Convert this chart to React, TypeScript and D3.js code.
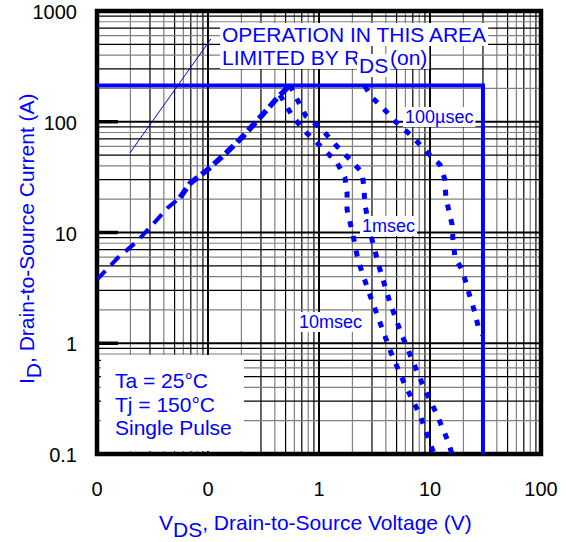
import React, { useEffect, useRef } from 'react';
import * as d3 from 'd3';

// rising part, limited by RDS(on)
const riseV = [0.01, 0.0155, 0.0229, 0.03, 0.0437, 0.056, 0.0689, 0.1, 0.148, 0.207, 0.313, 0.427, 0.548];
const riseI = [3.76, 5.94, 8.29, 11.1, 16.8, 20.7, 27.8, 37.2, 53, 74, 117, 167, 214];

const ms1V = [0.548, 0.634, 0.764, 1.06, 1.45, 1.82, 2.44, 2.54, 2.59, 3.0, 3.54, 4.36, 5.48, 7.03, 9.0, 11.6, 14.5, 15.8];
const ms1I = [214, 160, 112, 85.5, 60, 47.7, 34.9, 25.5, 17.9, 8.65, 4.63, 2.33, 1.24, 0.68, 0.38, 0.225, 0.131, 0.1];

const ms10V = [0.446, 0.583, 0.796, 1.06, 1.45, 1.71, 1.79, 1.79, 2.02, 2.24, 2.76, 3.55, 4.46, 5.96, 8.13, 10, 10.9];
const ms10I = [174, 110, 77, 58.8, 43, 31.5, 23, 16.1, 9.6, 5.7, 3.05, 1.53, 0.82, 0.42, 0.225, 0.126, 0.1];

const us100V = [2.59, 2.94, 3.94, 4.84, 6.89, 9.6, 12.3, 13.6, 13.9, 15.8, 16.1, 16.8, 19.4, 21.1, 22.9, 25.4, 27.6, 30];
const us100I = [210, 170, 127, 101, 74, 52, 41, 30.2, 20.7, 11.8, 8.65, 5.94, 4.63, 3.53, 2.64, 1.89, 1.32, 1.19];

const dcV = [0.01, 30, 30];
const dcI = [212, 212, 0.1];

// pointer line of the RDS(on) note
const noteV = [0.0198, 0.106];
const noteI = [52.3, 559];

const xTicks = [0.01, 0.1, 1, 10, 100];
const xTickLabels = ['0', '0', '1', '10', '100'];
const yTicks = [0.1, 1, 10, 100, 1000];
const yTickLabels = ['0.1', '1', '10', '100', '1000'];

const BLUE = '#0000ff';
const FONT = '"Liberation Sans", Arial, Helvetica, sans-serif';

const zip = (v: number[], i: number[]) => v.map((d, k) => [d, i[k]] as [number, number]);

function App() {
  const svgRef = useRef<SVGSVGElement>(null);

  useEffect(() => {
    const svg = d3.select(svgRef.current);
    svg.selectAll('*').remove();

    const dims = { left: 97, right: 541, top: 11, bottom: 454 };

    const x = d3.scaleLog().domain([0.01, 100]).range([dims.left, dims.right]);
    const y = d3.scaleLog().domain([0.1, 1000]).range([dims.bottom, dims.top]);

    svg.append('rect').attr('width', 566).attr('height', 542).attr('fill', 'white');

    svg.append('defs').append('clipPath').attr('id', 'plot-clip')
      .append('rect')
      .attr('x', dims.left).attr('y', dims.top - 3)
      .attr('width', dims.right - dims.left).attr('height', dims.bottom - dims.top + 6);

    // grid
    const grid = svg.append('g');
    const minors: { v: number; m: number }[] = [];
    [0.01, 0.1, 1, 10].forEach((d) => {
      for (let m = 2; m <= 9; m++) minors.push({ v: d * m, m });
    });
    const yMinors: { v: number; m: number }[] = [];
    [0.1, 1, 10, 100].forEach((d) => {
      for (let m = 2; m <= 9; m++) yMinors.push({ v: d * m, m });
    });
    const minorColor = (m: number) => (m % 2 === 0 ? '#808080' : '#000');

    grid.selectAll('.vx').data(minors).enter().append('line')
      .attr('x1', (d) => x(d.v)).attr('x2', (d) => x(d.v))
      .attr('y1', dims.top).attr('y2', dims.bottom)
      .attr('stroke', (d) => minorColor(d.m)).attr('stroke-width', 1.2);
    grid.selectAll('.hy').data(yMinors).enter().append('line')
      .attr('y1', (d) => y(d.v)).attr('y2', (d) => y(d.v))
      .attr('x1', dims.left).attr('x2', dims.right)
      .attr('stroke', (d) => minorColor(d.m)).attr('stroke-width', 1.2);
    grid.selectAll('.vmaj').data(xTicks).enter().append('line')
      .attr('x1', (d) => x(d)).attr('x2', (d) => x(d))
      .attr('y1', dims.top).attr('y2', dims.bottom)
      .attr('stroke', '#000').attr('stroke-width', 2);
    grid.selectAll('.hmaj').data(yTicks).enter().append('line')
      .attr('y1', (d) => y(d)).attr('y2', (d) => y(d))
      .attr('x1', dims.left).attr('x2', dims.right)
      .attr('stroke', '#000').attr('stroke-width', 2);

    // white box behind the test conditions
    svg.append('rect')
      .attr('x', dims.left + 4).attr('y', 355)
      .attr('width', 244 - dims.left - 4).attr('height', dims.bottom - 355 - 3)
      .attr('fill', 'white');

    // thick stubs at the left
    svg.selectAll('.stub').data([1, 10, 100]).enter().append('line')
      .attr('x1', dims.left).attr('x2', dims.left + 21)
      .attr('y1', (d) => y(d)).attr('y2', (d) => y(d))
      .attr('stroke', '#000').attr('stroke-width', 3.5);

    // frame
    svg.append('rect')
      .attr('x', dims.left).attr('y', dims.top)
      .attr('width', dims.right - dims.left).attr('height', dims.bottom - dims.top)
      .attr('fill', 'none').attr('stroke', '#000').attr('stroke-width', 4.5);

    const line = d3.line<[number, number]>().x((d) => x(d[0])).y((d) => y(d[1]));
    const curves = svg.append('g').attr('clip-path', 'url(#plot-clip)');

    // RDS(on) line: thin long dashes at low voltage, heavier where the pulse curves share it
    const rise = zip(riseV, riseI);
    curves.append('path').datum(rise.filter((d) => d[0] <= 0.056))
      .attr('d', line).attr('fill', 'none').attr('stroke', BLUE)
      .attr('stroke-width', 4).attr('stroke-dasharray', '12 8');
    curves.append('path').datum(rise.filter((d) => d[0] >= 0.056))
      .attr('d', line).attr('fill', 'none').attr('stroke', BLUE)
      .attr('stroke-width', 5.5).attr('stroke-dasharray', '11 5');

    const pulses = [zip(ms1V, ms1I), zip(ms10V, ms10I), zip(us100V, us100I)];
    curves.selectAll('.pulse').data(pulses).enter().append('path')
      .attr('d', line).attr('fill', 'none').attr('stroke', BLUE)
      .attr('stroke-width', 5).attr('stroke-dasharray', '6 9');

    // DC limit
    curves.append('path').datum(zip(dcV, dcI))
      .attr('d', line).attr('fill', 'none').attr('stroke', BLUE).attr('stroke-width', 4);

    // note pointer
    svg.append('path').datum(zip(noteV, noteI))
      .attr('d', line).attr('fill', 'none').attr('stroke', BLUE).attr('stroke-width', 1);

    // text helper with white background
    const labelBg = (tx: number, ty: number, text: string, size: number) => {
      const g = svg.append('g');
      const t = g.append('text').attr('x', tx).attr('y', ty)
        .attr('font-family', FONT).attr('font-size', size).attr('fill', BLUE).text(text);
      const b = (t.node() as SVGTextElement).getBBox();
      g.insert('rect', 'text')
        .attr('x', b.x - 2).attr('y', b.y)
        .attr('width', b.width + 4).attr('height', b.height)
        .attr('fill', 'white');
      return t;
    };

    labelBg(222, 42, 'OPERATION IN THIS AREA', 21);
    labelBg(222, 65, 'LIMITED BY R', 21);
    labelBg(359, 73, 'DS', 21);
    labelBg(390, 65, '(on)', 21);

    labelBg(405, 123, '100µsec', 18);
    labelBg(362, 232, '1msec', 18);
    labelBg(299, 328, '10msec', 18);

    const legend = svg.append('g').attr('font-family', FONT).attr('font-size', 21).attr('fill', BLUE);
    ['Ta = 25°C', 'Tj = 150°C', 'Single Pulse'].forEach((s, k) => {
      legend.append('text').attr('x', 115).attr('y', 388 + k * 23.5).text(s);
    });

    // tick labels
    svg.selectAll('.xl').data(xTicks).enter().append('text')
      .attr('x', (d) => x(d)).attr('y', 496)
      .attr('text-anchor', 'middle').attr('font-family', FONT).attr('font-size', 20)
      .text((d, k) => xTickLabels[k]);
    svg.selectAll('.yl').data(yTicks).enter().append('text')
      .attr('x', 77).attr('y', (d) => y(d) + 8)
      .attr('text-anchor', 'end').attr('font-family', FONT).attr('font-size', 20)
      .text((d, k) => yTickLabels[k]);

    // axis titles
    const xt = svg.append('text').attr('x', 159).attr('y', 530)
      .attr('font-family', FONT).attr('font-size', 21).attr('fill', BLUE);
    xt.append('tspan').text('V');
    xt.append('tspan').attr('dy', 7).text('DS');
    xt.append('tspan').attr('dy', -7).text(', Drain-to-Source Voltage (V)');

    const yt = svg.append('text')
      .attr('transform', 'translate(34, 384) rotate(-90)')
      .attr('font-family', FONT).attr('font-size', 21).attr('fill', BLUE);
    yt.append('tspan').text('I');
    yt.append('tspan').attr('dy', 7).text('D');
    yt.append('tspan').attr('dy', -7).text(',  Drain-to-Source Current (A)');
  }, []);

  return (
    <svg
      ref={svgRef}
      width={566}
      height={542}
      style={{ position: 'absolute', left: 0, top: 0, display: 'block' }}
    />
  );
}

export default App;
